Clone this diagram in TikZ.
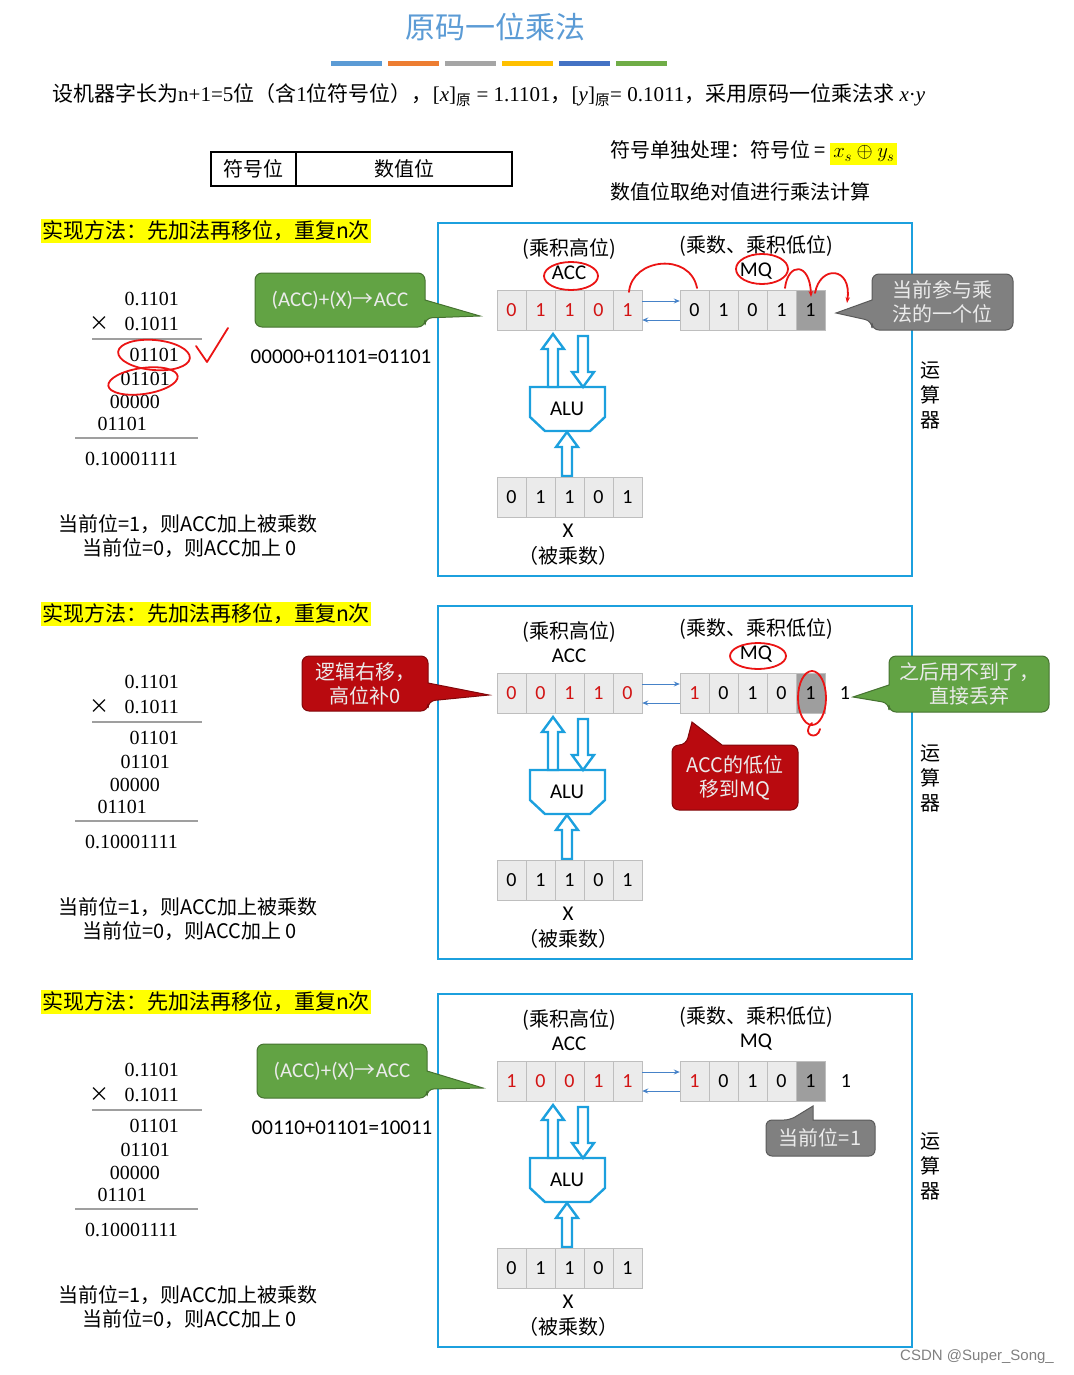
\documentclass[tikz,border=0pt]{standalone}
\usepackage{fontspec}
\setmainfont{Liberation Serif}
\newfontfamily\cjk{Noto Sans CJK SC}
\newfontfamily\calib{Carlito}
\newfontfamily\wmark{Liberation Sans}
\usetikzlibrary{arrows.meta, positioning}

\definecolor{titleblue}{RGB}{91,155,213}
\definecolor{barorange}{RGB}{237,125,49}
\definecolor{bargray}{RGB}{165,165,165}
\definecolor{bargold}{RGB}{255,192,0}
\definecolor{bardark}{RGB}{68,114,196}
\definecolor{bargreen}{RGB}{112,173,71}
\definecolor{frameblue}{RGB}{28,160,222}
\definecolor{linkblue}{RGB}{70,130,200}
\definecolor{cellgray}{RGB}{235,235,235}
\definecolor{cellline}{RGB}{190,190,190}
\definecolor{lastgray}{RGB}{158,158,158}
\definecolor{accred}{RGB}{210,20,20}
\definecolor{inkred}{RGB}{235,20,20}
\definecolor{callgreen}{RGB}{98,163,68}
\definecolor{callred}{RGB}{185,10,15}
\definecolor{callgray}{RGB}{128,128,128}
\definecolor{hiyellow}{RGB}{255,255,0}

\newcommand{\fsz}[1]{\fontsize{#1}{#1}\selectfont}
% hollow block arrows: x, foot, tip
\newcommand{\hollowup}[3]{%
  \filldraw[hollow] (#1-5,#2) -- (#1-5,#3+15) -- (#1-11,#3+15) -- (#1,#3)
    -- (#1+11,#3+15) -- (#1+5,#3+15) -- (#1+5,#2) -- cycle;}
\newcommand{\hollowdown}[3]{%
  \filldraw[hollow] (#1-5,#2) -- (#1-5,#3-15) -- (#1-11,#3-15) -- (#1,#3)
    -- (#1+11,#3-15) -- (#1+5,#3-15) -- (#1+5,#2) -- cycle;}

% one step of the method: ACC bits, MQ colour/bit/fill
\newcommand{\panelbase}[2]{%
  \node[hilite] (method) at (206,231) {实现方法：先加法再移位，重复n次};
  \node[num, anchor=east] (mcand) at (179,299) {0.1101};
  \node[num, anchor=east] (mplier) at (179,324) {0.1011};
  \node[num, font=\cjk\fsz{20}] (times) at (99,324) {×};
  \draw[rulel] (92,339) -- (202,339);
  \node[num, anchor=east] (pp1) at (179,355) {01101};
  \node[num, anchor=east] (pp2) at (170,379) {01101};
  \node[num, anchor=east] (pp3) at (160,402) {00000};
  \node[num, anchor=east] (pp4) at (147,424) {01101};
  \draw[rulel] (75,438) -- (198,438);
  \node[num, anchor=east] (prod) at (178,459) {0.10001111};
  \node[note] (ruleone) at (58,524) {当前位=1，则ACC加上被乘数};
  \node[note] (rulezero) at (82,548) {当前位=0，则ACC加上 0};
  % the arithmetic unit
  \node[opbox] (unit) at (675,399.5) {};
  \node[font=\cjk\fontsize{20}{25}\selectfont, align=center] (unitname) at (930,395) {运\\算\\器};
  \node[lbl] (acchint) at (569,249) {(乘积高位)};
  \node[reg] (accname) at (569,273) {ACC};
  \node[lbl] (mqhint) at (756,246) {(乘数、乘积低位)};
  \node[reg] (mqname) at (756,271) {MQ};
  \foreach \dig [count=\i] in {#1}
    \node[cell, text=accred] (acc\i) at ({482.5+29*\i},310) {\dig};
  \foreach \col/\dig/\bg [count=\i] in {#2}
    \node[cell, text=\col, fill=\bg] (mq\i) at ({665.5+29*\i},310) {\dig};
  \draw[link] ([yshift=9pt]acc5.east) -- ([yshift=9pt]mq1.west);
  \draw[link] ([yshift=-10pt]mq1.west) -- ([yshift=-10pt]acc5.east);
  \filldraw[hollow] (530,387) -- (605,387) -- (605,417) -- (590,431) -- (545,431) -- (530,417) -- cycle;
  \node[reg] (alu) at (567,409) {ALU};
  \hollowup{553}{387}{334}
  \hollowdown{583}{336}{387}
  \hollowup{567}{476}{432}
  \foreach \dig [count=\i] in {0,1,1,0,1}
    \node[cell] (x\i) at ({482.5+29*\i},497) {\dig};
  \node[reg] (xname) at (568,531) {X};
  \node[lbl] (xhint) at (568,556) {（被乘数）};
}

\begin{document}
\begin{tikzpicture}[x=1pt, y=-1pt,
    cell/.style={draw=cellline, fill=cellgray, minimum width=29pt, minimum height=40pt,
                 inner sep=0pt, font=\calib\fsz{20}},
    reg/.style={font=\calib\fsz{21}, inner sep=1pt},
    lbl/.style={font=\cjk\fsz{20}, inner sep=1pt},
    num/.style={font=\fsz{20}, inner sep=0pt},
    note/.style={font=\cjk\fsz{20}, inner sep=0pt, anchor=west},
    hilite/.style={fill=hiyellow, font=\cjk\fsz{21}, inner sep=1.5pt},
    opbox/.style={draw=frameblue, line width=2.6pt, minimum width=474pt, minimum height=353pt},
    hollow/.style={draw=frameblue, line width=2.4pt, fill=white},
    link/.style={draw=linkblue, line width=1pt, -{Stealth[length=6pt, width=5pt]}},
    rulel/.style={draw=gray!75, line width=1.2pt},
    ink/.style={draw=inkred, line width=1.8pt, line cap=round, line join=round},
    greenbub/.style={fill=callgreen, draw=callgreen!70!black, line width=1pt},
    redbub/.style={fill=callred, draw=callred!70!black, line width=1pt},
    graybub/.style={fill=callgray, draw=callgray!70!black, line width=1pt},
    bubtext/.style={text=white!92!black, font=\cjk\fontsize{20}{24}\selectfont, align=center, inner sep=0pt}
  ]
  \useasboundingbox (0,0) rectangle (1073,1375);

  % heading
  \node[font=\cjk\fsz{30}, text=titleblue] (title) at (495,27) {原码一位乘法};
  \foreach \col [count=\i] in {titleblue,barorange,bargray,bargold,bardark,bargreen}
    \fill[fill=\col] ({331+57*(\i-1)},61) rectangle ++(51,5);
  \node[anchor=west, font=\fsz{21}, inner sep=0pt] (given) at (52,95)
    {{\cjk 设机器字长为}n+1=5{\cjk 位（含}1{\cjk 位符号位），}[\textit{x}]\textsubscript{\cjk 原} = 1.1101{\cjk ，}[\textit{y}]\textsubscript{\cjk 原}= 0.1011{\cjk ，采用原码一位乘法求} \textit{x}·\textit{y}};
  \node[draw, line width=1.5pt, minimum width=85pt, minimum height=34pt, font=\cjk\fsz{20}] (signbit) at (253.5,169) {符号位};
  \node[draw, line width=1.5pt, minimum width=216pt, minimum height=34pt, font=\cjk\fsz{20}, right=-1.5pt of signbit] (valbits) {数值位};
  \node[anchor=west, font=\cjk\fsz{20}, inner sep=0pt] (signrule) at (610,153)
    {符号单独处理：符号位 = {\setlength{\fboxsep}{3pt}\colorbox{hiyellow}{$x_s\oplus y_s$}}};
  \node[anchor=west, font=\cjk\fsz{20}, inner sep=0pt] (absrule) at (610,192) {数值位取绝对值进行乘法计算};

  % step 1: add
  \begin{scope}[name prefix=pa-]
    \panelbase{0,1,1,0,1}{black/0/cellgray,black/1/cellgray,black/0/cellgray,black/1/cellgray,black/1/lastgray}
    \filldraw[greenbub] (480,316) -- (425,300) [rounded corners=7pt] -- (425,273) -- (255,273) -- (255,327) -- (425,327) -- (425,318) [sharp corners] -- cycle;
    \node[bubtext, font=\calib\fsz{21}] (addop) at (340,300) {(ACC)+(X){\cjk →}ACC};
    \node[reg] (addsum) at (341,357) {00000+01101=01101};
    \filldraw[graybub] (836,313) -- (872,300) [rounded corners=7pt] -- (872,274) -- (1013,274) -- (1013,330) -- (872,330) -- (872,321) [sharp corners] -- cycle;
    \node[bubtext] (curbit) at (942,302) {当前参与乘\\法的一个位};
    % pen marks
    \draw[ink] (571,276) ellipse [x radius=27, y radius=14];
    \draw[ink] (762,269) ellipse [x radius=26, y radius=15];
    \draw[ink] (629,292) .. controls (632,258) and (690,252) .. (697,288);
    \draw[ink, -{Stealth[length=6pt]}] (785,288) .. controls (788,262) and (810,262) .. (811,297);
    \draw[ink, -{Stealth[length=6pt]}] (815,293) .. controls (820,265) and (852,266) .. (847,303);
    \draw[ink, rotate around={-5:(154,355)}] (154,355) ellipse [x radius=36, y radius=15];
    \draw[ink, rotate around={8:(143,381)}] (143,381) ellipse [x radius=35, y radius=13];
    \draw[ink] (196,346) -- (207,362) -- (228,328);
  \end{scope}

  % step 1: shift
  \begin{scope}[yshift=-383pt, name prefix=pb-]
    \panelbase{0,0,1,1,0}{accred/1/cellgray,black/0/cellgray,black/1/cellgray,black/0/cellgray,black/1/lastgray}
    \node[reg, font=\calib\fsz{20}] (dropped) at (845,310) {1};
    \filldraw[redbub] (489,312) -- (428,300) [rounded corners=7pt] -- (428,273) -- (302,273) -- (302,328) -- (428,328) -- (428,318) [sharp corners] -- cycle;
    \node[bubtext] (shiftnote) at (365,300.5) {逻辑右移，\\高位补0};
    \filldraw[redbub] (692,339) -- (722,362) [rounded corners=7pt] -- (798,362) -- (798,427) -- (672,427) -- (672,362) -- (686,362) [sharp corners] -- cycle;
    \node[bubtext] (lowbit) at (735,394.5) {ACC的低位\\移到MQ};
    \filldraw[greenbub] (853,314) -- (889,302) [rounded corners=7pt] -- (889,273) -- (1049,273) -- (1049,329) -- (889,329) -- (889,320) [sharp corners] -- cycle;
    \node[bubtext] (discard) at (969,301) {之后用不到了，\\直接丢弃};
    % pen marks
    \draw[ink] (758,273) ellipse [x radius=28, y radius=13];
    \draw[ink] (812,315) ellipse [x radius=14, y radius=27];
    \draw[ink] (812,340) .. controls (800,352) and (818,358) .. (820,346);
  \end{scope}

  % step 2: add
  \begin{scope}[yshift=-771pt, name prefix=pc-]
    \panelbase{1,0,0,1,1}{accred/1/cellgray,black/0/cellgray,black/1/cellgray,black/0/cellgray,black/1/lastgray}
    \node[reg, font=\calib\fsz{20}] (dropped) at (846,310) {1};
    \filldraw[greenbub] (483,317) -- (427,300) [rounded corners=7pt] -- (427,273) -- (257,273) -- (257,327) -- (427,327) -- (427,318) [sharp corners] -- cycle;
    \node[bubtext, font=\calib\fsz{21}] (addop) at (342,300) {(ACC)+(X){\cjk →}ACC};
    \node[reg] (addsum) at (342,357) {00110+01101=10011};
    \filldraw[graybub] (813,335) -- (813,349) [rounded corners=6pt] -- (875,349) -- (875,385) -- (766,385) -- (766,349) -- (790,349) [sharp corners] -- cycle;
    \node[bubtext] (curbitone) at (820,367) {当前位=1};
  \end{scope}

  \node[font=\wmark\fsz{15}, text=gray] (mark) at (977,1357) {CSDN @Super\_Song\_};
\end{tikzpicture}
\end{document}
